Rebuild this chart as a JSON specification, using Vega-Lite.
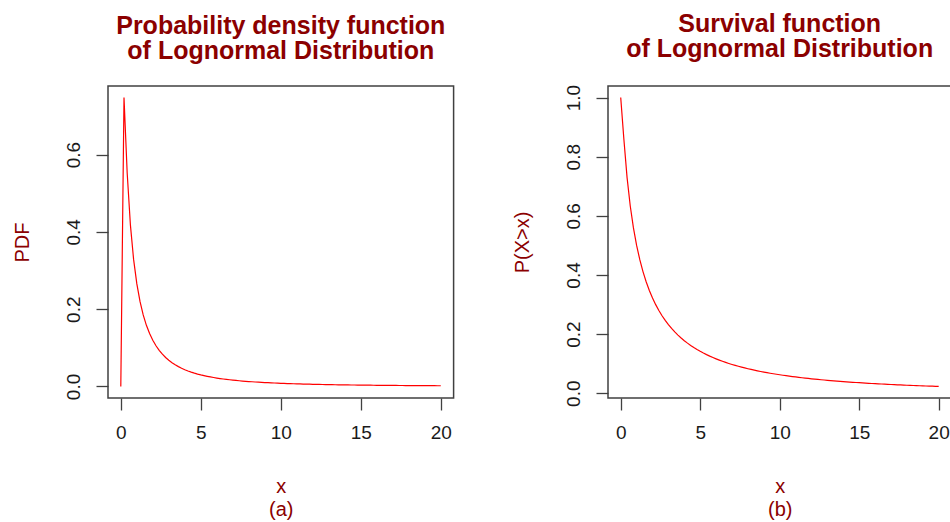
{
  "$schema": "https://vega.github.io/schema/vega-lite/v6.json",
  "padding": {"left": 11, "top": 11, "right": 0, "bottom": 0},
  "background": "white",
  "spacing": 56,
  "config": {
    "font": "Liberation Sans",
    "view": {"stroke": "#404040", "strokeWidth": 1.5},
    "axis": {
      "domain": false, "grid": false,
      "tickColor": "#404040", "tickSize": 12, "tickWidth": 1.3,
      "labelFont": "Liberation Sans", "labelFontSize": 19, "labelColor": "#1a1a1a",
      "titleFont": "Liberation Sans", "titleFontSize": 20, "titleColor": "#8B0000", "titleFontWeight": "normal",
      "titleLineHeight": 23
    },
    "axisX": {"labelPadding": 13, "labelBaseline": "top", "titlePadding": 34},
    "axisY": {"labelAngle": 270, "labelAlign": "center", "labelBaseline": "alphabetic", "labelPadding": 17, "titlePadding": 32},
    "title": {"font": "Liberation Sans", "fontSize": 25, "fontWeight": "bold", "color": "#8B0000", "lineHeight": 25, "anchor": "middle", "frame": "group", "offset": 22}
  },
  "datasets": {
    "pdf": [
      {"x":0,"y":0},{"x":0.2,"y":0.74785},{"x":0.4,"y":0.55173},{"x":0.6,"y":0.4183},{"x":0.8,"y":0.3288},
      {"x":1,"y":0.26596},{"x":1.2,"y":0.22},{"x":1.4,"y":0.18525},{"x":1.6,"y":0.15826},{"x":1.8,"y":0.13684},
      {"x":2,"y":0.11952},{"x":2.2,"y":0.10529},{"x":2.4,"y":0.09346},{"x":2.6,"y":0.08351},{"x":2.8,"y":0.07505},
      {"x":3,"y":0.0678},{"x":3.2,"y":0.06153},{"x":3.4,"y":0.05608},{"x":3.6,"y":0.05131},{"x":3.8,"y":0.0471},
      {"x":4,"y":0.04338},{"x":4.2,"y":0.04007},{"x":4.4,"y":0.03711},{"x":4.6,"y":0.03446},{"x":4.8,"y":0.03207},
      {"x":5,"y":0.02991},{"x":5.2,"y":0.02796},{"x":5.4,"y":0.02618},{"x":5.6,"y":0.02456},{"x":5.8,"y":0.02308},
      {"x":6,"y":0.02172},{"x":6.2,"y":0.02047},{"x":6.4,"y":0.01932},{"x":6.6,"y":0.01826},{"x":6.8,"y":0.01729},
      {"x":7,"y":0.01638},{"x":7.2,"y":0.01554},{"x":7.4,"y":0.01476},{"x":7.6,"y":0.01403},{"x":7.8,"y":0.01335},
      {"x":8,"y":0.01272},{"x":8.2,"y":0.01213},{"x":8.4,"y":0.01157},{"x":8.6,"y":0.01105},{"x":8.8,"y":0.01057},
      {"x":9,"y":0.01011},{"x":9.2,"y":0.00968},{"x":9.4,"y":0.00927},{"x":9.6,"y":0.00889},{"x":9.8,"y":0.00853},
      {"x":10,"y":0.00819},{"x":10.2,"y":0.007865},{"x":10.4,"y":0.00756},{"x":10.6,"y":0.007271},{"x":10.8,"y":0.006997},
      {"x":11,"y":0.006738},{"x":11.2,"y":0.006491},{"x":11.4,"y":0.006257},{"x":11.6,"y":0.006034},{"x":11.8,"y":0.005822},
      {"x":12,"y":0.00562},{"x":12.2,"y":0.005427},{"x":12.4,"y":0.005244},{"x":12.6,"y":0.005069},{"x":12.8,"y":0.004901},
      {"x":13,"y":0.004742},{"x":13.2,"y":0.004589},{"x":13.4,"y":0.004443},{"x":13.6,"y":0.004303},{"x":13.8,"y":0.00417},
      {"x":14,"y":0.004041},{"x":14.2,"y":0.003919},{"x":14.4,"y":0.003801},{"x":14.6,"y":0.003688},{"x":14.8,"y":0.003579},
      {"x":15,"y":0.003475},{"x":15.2,"y":0.003375},{"x":15.4,"y":0.003279},{"x":15.6,"y":0.003186},{"x":15.8,"y":0.003097},
      {"x":16,"y":0.003012},{"x":16.2,"y":0.002929},{"x":16.4,"y":0.00285},{"x":16.6,"y":0.002773},{"x":16.8,"y":0.002699},
      {"x":17,"y":0.002628},{"x":17.2,"y":0.00256},{"x":17.4,"y":0.002494},{"x":17.6,"y":0.00243},{"x":17.8,"y":0.002368},
      {"x":18,"y":0.002308},{"x":18.2,"y":0.002251},{"x":18.4,"y":0.002195},{"x":18.6,"y":0.002141},{"x":18.8,"y":0.002089},
      {"x":19,"y":0.002039},{"x":19.2,"y":0.00199},{"x":19.4,"y":0.001943},{"x":19.6,"y":0.001897},{"x":19.8,"y":0.001853},
      {"x":20,"y":0.00181}
    ],
    "surv": [
      {"x":0,"y":1},{"x":0.2,"y":0.85835},{"x":0.4,"y":0.72935},{"x":0.6,"y":0.63328},{"x":0.8,"y":0.55913},
      {"x":1,"y":0.5},{"x":1.2,"y":0.45163},{"x":1.4,"y":0.41126},{"x":1.6,"y":0.37701},{"x":1.8,"y":0.34758},
      {"x":2,"y":0.32201},{"x":2.2,"y":0.29957},{"x":2.4,"y":0.27973},{"x":2.6,"y":0.26206},{"x":2.8,"y":0.24623},
      {"x":3,"y":0.23196},{"x":3.2,"y":0.21905},{"x":3.4,"y":0.2073},{"x":3.6,"y":0.19657},{"x":3.8,"y":0.18673},
      {"x":4,"y":0.1777},{"x":4.2,"y":0.16936},{"x":4.4,"y":0.16165},{"x":4.6,"y":0.15449},{"x":4.8,"y":0.14784},
      {"x":5,"y":0.14165},{"x":5.2,"y":0.13586},{"x":5.4,"y":0.13045},{"x":5.6,"y":0.12538},{"x":5.8,"y":0.12062},
      {"x":6,"y":0.11614},{"x":6.2,"y":0.11192},{"x":6.4,"y":0.10795},{"x":6.6,"y":0.10418},{"x":6.8,"y":0.10063},
      {"x":7,"y":0.09727},{"x":7.2,"y":0.09408},{"x":7.4,"y":0.09105},{"x":7.6,"y":0.08817},{"x":7.8,"y":0.08543},
      {"x":8,"y":0.08283},{"x":8.2,"y":0.08035},{"x":8.4,"y":0.07797},{"x":8.6,"y":0.07572},{"x":8.8,"y":0.07355},
      {"x":9,"y":0.07149},{"x":9.2,"y":0.06951},{"x":9.4,"y":0.06761},{"x":9.6,"y":0.0658},{"x":9.8,"y":0.06406},
      {"x":10,"y":0.06239},{"x":10.2,"y":0.06078},{"x":10.4,"y":0.05924},{"x":10.6,"y":0.05776},{"x":10.8,"y":0.05633},
      {"x":11,"y":0.05496},{"x":11.2,"y":0.05363},{"x":11.4,"y":0.05236},{"x":11.6,"y":0.05113},{"x":11.8,"y":0.04994},
      {"x":12,"y":0.0488},{"x":12.2,"y":0.0477},{"x":12.4,"y":0.04663},{"x":12.6,"y":0.04559},{"x":12.8,"y":0.0446},
      {"x":13,"y":0.04363},{"x":13.2,"y":0.04271},{"x":13.4,"y":0.0418},{"x":13.6,"y":0.04093},{"x":13.8,"y":0.04008},
      {"x":14,"y":0.03925},{"x":14.2,"y":0.03846},{"x":14.4,"y":0.03769},{"x":14.6,"y":0.03694},{"x":14.8,"y":0.03622},
      {"x":15,"y":0.03551},{"x":15.2,"y":0.03483},{"x":15.4,"y":0.03416},{"x":15.6,"y":0.03351},{"x":15.8,"y":0.03288},
      {"x":16,"y":0.03228},{"x":16.2,"y":0.03168},{"x":16.4,"y":0.0311},{"x":16.6,"y":0.03054},{"x":16.8,"y":0.02999},
      {"x":17,"y":0.02946},{"x":17.2,"y":0.02894},{"x":17.4,"y":0.02844},{"x":17.6,"y":0.02795},{"x":17.8,"y":0.02746},
      {"x":18,"y":0.02699},{"x":18.2,"y":0.02654},{"x":18.4,"y":0.0261},{"x":18.6,"y":0.02566},{"x":18.8,"y":0.02524},
      {"x":19,"y":0.02483},{"x":19.2,"y":0.02442},{"x":19.4,"y":0.02403},{"x":19.6,"y":0.02365},{"x":19.8,"y":0.02328},
      {"x":20,"y":0.02291}
    ]
  },
  "hconcat": [
    {
      "width": 345.6, "height": 312,
      "title": {"text": ["Probability density function", "of Lognormal Distribution"]},
      "data": {"name": "pdf"},
      "mark": {"type": "line", "color": "#FF0000", "strokeWidth": 1.2, "clip": true},
      "encoding": {
        "x": {"field": "x", "type": "quantitative",
              "scale": {"domain": [-0.8, 20.8], "nice": false, "zero": false},
              "axis": {"values": [0, 5, 10, 15, 20], "title": ["x", "(a)"]}},
        "y": {"field": "y", "type": "quantitative",
              "scale": {"domain": [-0.0299, 0.7777], "nice": false, "zero": false},
              "axis": {"values": [0, 0.2, 0.4, 0.6], "format": ".1f", "title": "PDF"}}
      }
    },
    {
      "width": 343.4, "height": 312,
      "title": {"text": ["Survival function", "of Lognormal Distribution"]},
      "data": {"name": "surv"},
      "mark": {"type": "line", "color": "#FF0000", "strokeWidth": 1.2, "clip": true},
      "encoding": {
        "x": {"field": "x", "type": "quantitative",
              "scale": {"domain": [-0.8, 20.8], "nice": false, "zero": false},
              "axis": {"values": [0, 5, 10, 15, 20], "title": ["x", "(b)"]}},
        "y": {"field": "y", "type": "quantitative",
              "scale": {"domain": [-0.0162, 1.0391], "nice": false, "zero": false},
              "axis": {"values": [0, 0.2, 0.4, 0.6, 0.8, 1.0], "format": ".1f", "title": "P(X>x)"}}
      }
    }
  ]
}
